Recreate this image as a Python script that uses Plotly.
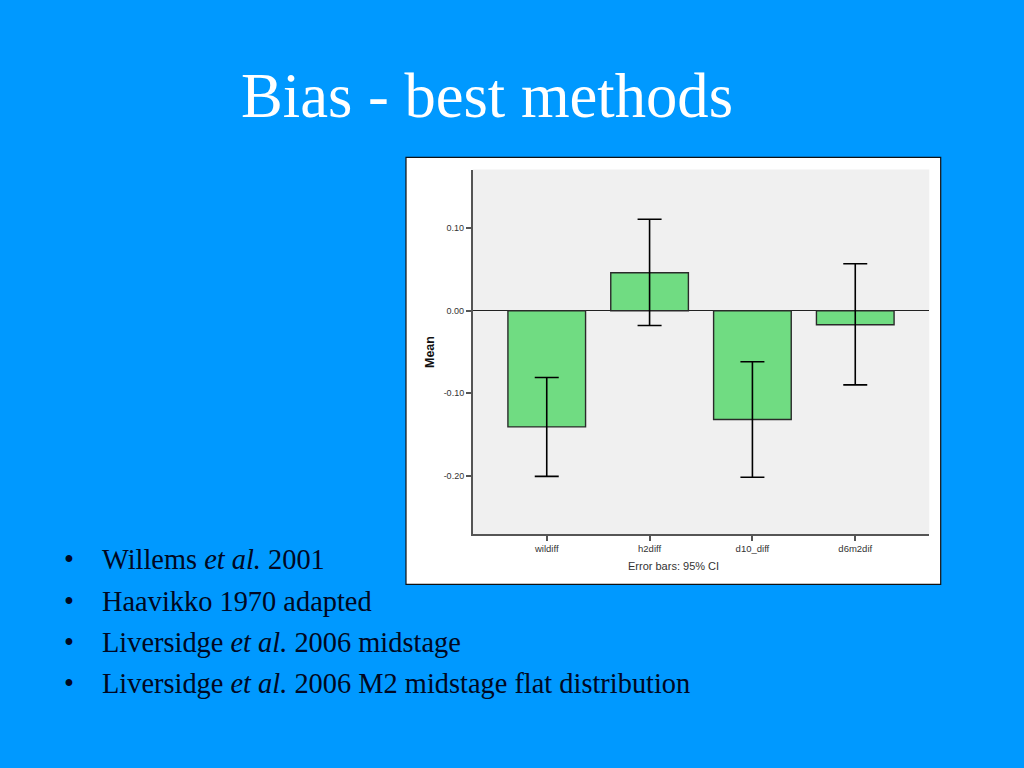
import plotly.graph_objects as go

# ---- data ----
categories = ["wildiff", "h2diff", "d10_diff", "d6m2dif"]
means = [-0.141, 0.046, -0.132, -0.017]
ci_upper = [-0.081, 0.111, -0.062, 0.057]
ci_lower = [-0.201, -0.018, -0.202, -0.090]
y_tickvals = [0.10, 0.00, -0.10, -0.20]
y_ticktext = ["0.10", "0.00", "-0.10", "-0.20"]
title_text = "Bias - best methods"
bullets = [
    "Willems <i>et al.</i> 2001",
    "Haavikko 1970 adapted",
    "Liversidge <i>et al.</i> 2006 midstage",
    "Liversidge <i>et al.</i> 2006 M2 midstage flat distribution",
]

W, H = 1024, 768
BLUE = "#0099FF"

err_plus = [u - m for u, m in zip(ci_upper, means)]
err_minus = [m - l for m, l in zip(means, ci_lower)]

fig = go.Figure()
fig.add_trace(go.Bar(
    x=categories, y=means, width=0.755,
    marker=dict(color="#70DC82", line=dict(color="#2A2A2A", width=1.4)),
    error_y=dict(type="data", symmetric=False, array=err_plus, arrayminus=err_minus,
                 color="#000000", thickness=1.6, width=12),
    showlegend=False,
))

def px(x):
    return x / W

def py(y):
    return 1 - y / H

shapes = [
    dict(type="rect", xref="paper", yref="paper", layer="below",
         x0=px(406), x1=px(940.7), y0=py(584.3), y1=py(157.3),
         fillcolor="white", line=dict(color="#111111", width=1.2)),
    dict(type="rect", xref="x domain", yref="y domain", layer="below",
         x0=0, x1=1, y0=0, y1=1, fillcolor="#F0F0F0", line=dict(width=0)),
]

annotations = [
    dict(text=title_text, x=px(486.7), y=py(95.6), xref="paper", yref="paper",
         xanchor="center", yanchor="middle", showarrow=False,
         font=dict(family="Liberation Serif", size=62.6, color="white")),
    dict(text="Mean", x=px(430), y=py(352), xref="paper", yref="paper",
         xanchor="center", yanchor="middle", showarrow=False, textangle=-90,
         font=dict(family="Liberation Sans", size=12.5, color="#111111", weight="bold")),
    dict(text="Error bars: 95% CI", x=px(673.8), y=py(566), xref="paper", yref="paper",
         xanchor="center", yanchor="middle", showarrow=False,
         font=dict(family="Liberation Sans", size=11, color="#333333")),
]

centers = [559.7, 601.1, 642.1, 683.7]
for txt, cy in zip(bullets, centers):
    annotations.append(dict(text="•", x=px(68.8), y=py(cy), xref="paper", yref="paper",
                            xanchor="center", yanchor="middle", showarrow=False,
                            font=dict(family="Liberation Serif", size=28.4, color="#000822")))
    annotations.append(dict(text=txt, x=px(100), y=py(cy), xref="paper", yref="paper",
                            xanchor="left", yanchor="middle", showarrow=False,
                            font=dict(family="Liberation Serif", size=28.4, color="#000822")))

fig.update_layout(
    width=W, height=H,
    margin=dict(l=0, r=0, t=0, b=0),
    paper_bgcolor=BLUE,
    plot_bgcolor="rgba(0,0,0,0)",
    shapes=shapes,
    annotations=annotations,
    bargap=0.245,
    xaxis=dict(domain=[px(472.7), px(929.3)], range=[-0.72, 3.72],
               type="category", showgrid=False, zeroline=False,
               showline=True, linecolor="#555555", linewidth=1.5,
               ticks="outside", ticklen=5, tickcolor="#555555", tickwidth=1.5,
               tickfont=dict(family="Liberation Sans", size=9.5, color="#333333")),
    yaxis=dict(domain=[py(534.3), py(169.5)], range=[-0.2713, 0.1713],
               showgrid=False, zeroline=True, zerolinecolor="#222222", zerolinewidth=1.2,
               showline=True, linecolor="#555555", linewidth=1.5,
               ticks="outside", ticklen=5, tickcolor="#555555", tickwidth=1.5,
               tickvals=y_tickvals, ticktext=y_ticktext,
               tickfont=dict(family="Liberation Sans", size=9, color="#333333")),
)

fig.write_html("out.html", config={"displayModeBar": False},
               post_script="document.body.style.margin='0';document.body.style.overflow='hidden';")
